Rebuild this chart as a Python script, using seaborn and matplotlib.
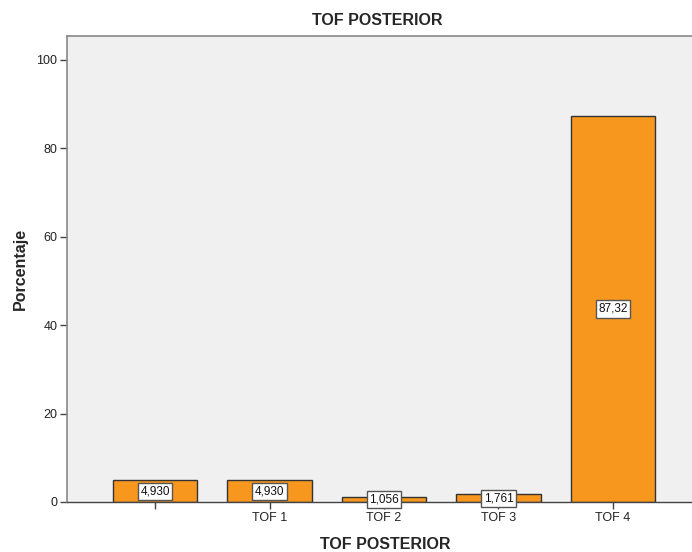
import matplotlib
matplotlib.use("Agg")
import matplotlib.pyplot as plt
import seaborn as sns
import pandas as pd

categories = ["", "TOF 1", "TOF 2", "TOF 3", "TOF 4"]
percentages = [4.930, 4.930, 1.056, 1.761, 87.32]

df = pd.DataFrame({"cat": categories, "pct": percentages})

sns.set_theme(style="white")
plt.rcParams["font.family"] = ["Liberation Sans", "DejaVu Sans"]

fig = plt.figure(figsize=(6.92, 5.52), dpi=100)
ax = fig.add_axes([67 / 692, 50 / 552, 634 / 692, 466 / 552])
ax.set_facecolor("#F0F0F0")

sns.barplot(data=df, x="cat", y="pct", order=categories, color="#F7971E",
            saturation=1, width=0.74, edgecolor="#333333", linewidth=1.0, ax=ax)

ax.set_xlim(-0.77, 4.77)
ax.set_ylim(0, 105.4)
ax.set_yticks([0, 20, 40, 60, 80, 100])
ax.tick_params(axis="both", which="both", direction="out", length=5, width=1,
               color="#444444", labelsize=9, labelcolor="#222222", pad=2,
               left=True, bottom=True)
ax.set_xticks(range(len(categories)))
ax.set_xticklabels(categories)

for name in ["left", "top"]:
    ax.spines[name].set_color("#888888")
    ax.spines[name].set_linewidth(1.2)
ax.spines["bottom"].set_color("#444444")
ax.spines["bottom"].set_linewidth(1.0)
ax.spines["right"].set_visible(False)

for i, v in enumerate(percentages):
    label = f"{v:#.4g}".replace(".", ",")
    ax.text(i, v / 2, label, ha="center", va="center", fontsize=8.5, color="#111111",
            bbox=dict(boxstyle="square,pad=0.22", facecolor="white",
                      edgecolor="#555555", linewidth=1.0), zorder=5)

ax.set_title("TOF POSTERIOR", fontsize=11.5, fontweight="bold", pad=8)
ax.set_xlabel("TOF POSTERIOR", fontsize=11.5, fontweight="bold", labelpad=10)
ax.set_ylabel("Porcentaje", fontsize=11.5, fontweight="bold", labelpad=6)
ax.title.set_position((310 / 634, 1))
ax.xaxis.set_label_coords(318 / 634, -0.075)

fig.savefig("out.png", dpi=100)
